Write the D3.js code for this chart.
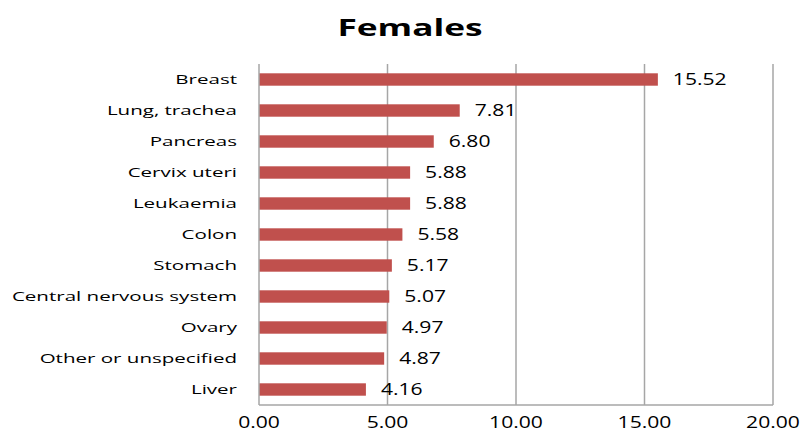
<!DOCTYPE html>
<html>
<head>
<meta charset="utf-8">
<script src="https://cdn.jsdelivr.net/npm/d3@7"></script>
<style>
  body { margin: 0; background: #fff; }
  text { font-family: "Open Sans", "DejaVu Sans", sans-serif; fill: #000; }
</style>
</head>
<body>
<div id="chart"></div>
<script>
// data
var categories = ["Breast", "Lung, trachea", "Pancreas", "Cervix uteri", "Leukaemia", "Colon",
                  "Stomach", "Central nervous system", "Ovary", "Other or unspecified", "Liver"];
var values = [15.52, 7.81, 6.80, 5.88, 5.88, 5.58, 5.17, 5.07, 4.97, 4.87, 4.16];
var xTicks = [0, 5, 10, 15, 20];
var title = "Females";

var width = 801, height = 433;
var plotTop = 64, plotBottom = 405;

// the original picture is stretched sideways, so text is widened too
var stretchLabel = 1.58, stretchNum = 1.32, stretchTitle = 1.47;

var svg = d3.select("#chart")
  .append("svg")
    .attr("width", width)
    .attr("height", height);

var x = d3.scaleLinear()
    .domain([0, 20])
    .range([259, 773]);

var y = d3.scaleBand()
    .domain(categories)
    .range([plotTop, plotBottom])
    .paddingInner(0.6)
    .paddingOuter(0.3);

function place(px, py, sx) {
  return "translate(" + px + "," + py + ") scale(" + sx + ",1)";
}

// title
svg.append("text")
    .attr("transform", place(410, 36, stretchTitle))
    .attr("text-anchor", "middle")
    .style("font-size", "24px")
    .style("font-weight", "bold")
    .text(title);

// vertical gridlines
svg.append("g")
  .selectAll("line")
  .data(xTicks.slice(1))
  .enter()
  .append("line")
    .attr("x1", function(d) { return x(d); })
    .attr("x2", function(d) { return x(d); })
    .attr("y1", plotTop)
    .attr("y2", plotBottom)
    .style("stroke", "#a6a6a6")
    .style("stroke-width", 1.5);

// bars
svg.append("g")
  .selectAll("rect")
  .data(values)
  .enter()
  .append("rect")
    .attr("x", x(0))
    .attr("y", function(d, i) { return y(categories[i]); })
    .attr("width", function(d) { return x(d) - x(0); })
    .attr("height", y.bandwidth())
    .style("fill", "#c0504d");

// value labels
svg.append("g")
  .selectAll("text")
  .data(values)
  .enter()
  .append("text")
    .attr("transform", function(d, i) {
      return place(x(d) + 15, y(categories[i]) + y.bandwidth() / 2, stretchNum);
    })
    .attr("dy", "0.36em")
    .style("font-size", "16px")
    .text(function(d) { return d3.format(".2f")(d); });

// category labels
svg.append("g")
  .selectAll("text")
  .data(categories)
  .enter()
  .append("text")
    .attr("transform", function(d) {
      return place(x(0) - 22, y(d) + y.bandwidth() / 2, stretchLabel);
    })
    .attr("dy", "0.36em")
    .attr("text-anchor", "end")
    .style("font-size", "13px")
    .text(function(d) { return d; });

// axis lines (left and bottom)
svg.append("line")
    .attr("x1", x(0)).attr("x2", x(0))
    .attr("y1", plotTop).attr("y2", plotBottom)
    .style("stroke", "#a6a6a6")
    .style("stroke-width", 1.5);
svg.append("line")
    .attr("x1", x(0)).attr("x2", x(20))
    .attr("y1", plotBottom).attr("y2", plotBottom)
    .style("stroke", "#a6a6a6")
    .style("stroke-width", 1.5);

// x tick labels
svg.append("g")
  .selectAll("text")
  .data(xTicks)
  .enter()
  .append("text")
    .attr("transform", function(d) { return place(x(d), 428, stretchNum); })
    .attr("text-anchor", "middle")
    .style("font-size", "16px")
    .text(function(d) { return d3.format(".2f")(d); });
</script>
</body>
</html>
